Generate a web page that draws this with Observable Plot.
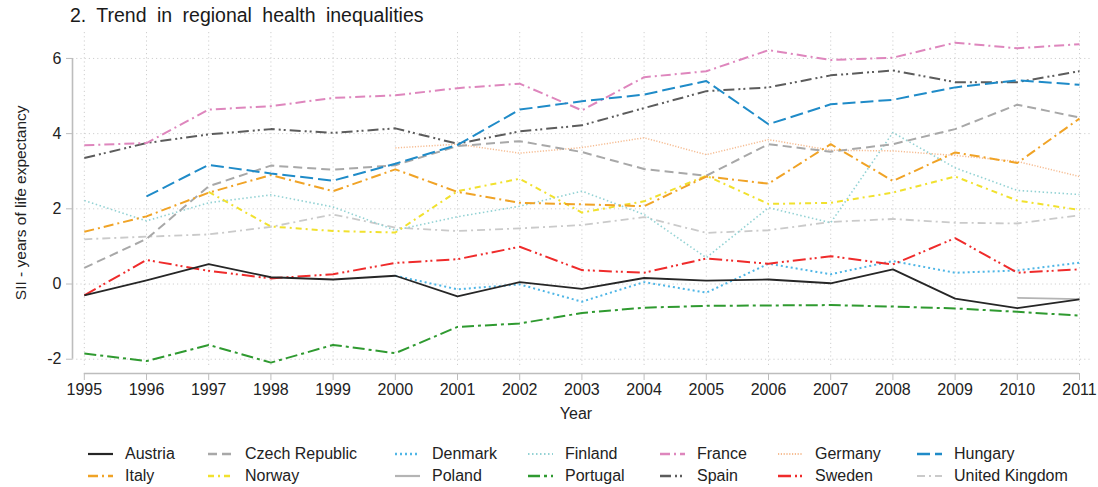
<!DOCTYPE html>
<html>
<head>
<meta charset="utf-8">
<script src="https://cdn.jsdelivr.net/npm/d3@7"></script>
<script src="https://cdn.jsdelivr.net/npm/@observablehq/plot@0.6"></script>
<style>
  body { margin: 0; background: #fff; font-family: "Liberation Sans", Arial, sans-serif; }
  #wrap { position: relative; width: 1098px; height: 487px; overflow: hidden; background: #fff; }
  #title { height: 28px; box-sizing: border-box; padding-top: 4px; padding-left: 70px; font-size: 19.5px; word-spacing: 5px; line-height: 22px; color: #1a1a1a; }
  #legend { position: relative; height: 62px; }
  .item { position: absolute; height: 22px; display: flex; align-items: center; font-size: 16px; color: #222; white-space: nowrap; }
  .item svg { margin-right: 12px; }
</style>
</head>
<body>
<div id="wrap">
  <div id="title">2. Trend in regional health inequalities</div>
  <div id="chart"></div>
  <div id="legend"></div>
</div>
<script>
// ---- data ----
const years = [1995, 1996, 1997, 1998, 1999, 2000, 2001, 2002, 2003, 2004, 2005, 2006, 2007, 2008, 2009, 2010, 2011];
const yTicks = [-2, 0, 2, 4, 6];
const yLabel = "SII - years of life expectancy";
const xLabel = "Year";

const austria  = [-0.30, 0.10, 0.53, 0.18, 0.12, 0.22, -0.33, 0.05, -0.13, 0.16, 0.09, 0.12, 0.02, 0.39, -0.39, -0.64, -0.41];
const czech    = [0.43, 1.20, 2.60, 3.15, 3.04, 3.16, 3.67, 3.80, 3.51, 3.06, 2.88, 3.72, 3.52, 3.72, 4.12, 4.77, 4.43];
const denmark  = [null, null, null, null, null, 0.22, -0.14, -0.01, -0.47, 0.05, -0.23, 0.54, 0.26, 0.61, 0.30, 0.36, 0.57];
const finland  = [2.22, 1.68, 2.16, 2.37, 2.05, 1.43, 1.79, 2.07, 2.47, 1.85, 0.70, 2.03, 1.63, 4.03, 3.09, 2.49, 2.38];
const france   = [3.69, 3.75, 4.64, 4.73, 4.95, 5.02, 5.21, 5.33, 4.62, 5.50, 5.66, 6.22, 5.96, 6.02, 6.42, 6.27, 6.38];
const germany  = [null, null, null, null, null, 3.62, 3.72, 3.48, 3.63, 3.89, 3.44, 3.84, 3.56, 3.54, 3.42, 3.26, 2.86];
const hungary  = [null, 2.33, 3.17, 2.94, 2.75, 3.20, 3.70, 4.64, 4.86, 5.04, 5.40, 4.25, 4.78, 4.90, 5.23, 5.42, 5.30];
const italy    = [1.39, 1.80, 2.43, 2.90, 2.47, 3.05, 2.45, 2.16, 2.12, 2.07, 2.86, 2.67, 3.72, 2.74, 3.50, 3.22, 4.40];
const norway   = [null, null, 2.45, 1.53, 1.41, 1.37, 2.47, 2.80, 1.90, 2.20, 2.88, 2.13, 2.16, 2.43, 2.86, 2.22, 1.97];
const poland   = [null, null, null, null, null, null, null, null, null, null, null, null, null, null, null, -0.37, -0.40];
const portugal = [-1.85, -2.05, -1.62, -2.09, -1.62, -1.84, -1.14, -1.05, -0.77, -0.63, -0.58, -0.57, -0.56, -0.60, -0.65, -0.74, -0.84];
const spain    = [3.35, 3.75, 3.98, 4.12, 4.02, 4.14, 3.73, 4.06, 4.22, 4.68, 5.13, 5.23, 5.55, 5.68, 5.37, 5.37, 5.66];
const sweden   = [-0.30, 0.64, 0.35, 0.15, 0.26, 0.56, 0.66, 0.99, 0.37, 0.30, 0.68, 0.54, 0.74, 0.52, 1.22, 0.30, 0.39];
const uk       = [1.19, 1.26, 1.32, 1.52, 1.85, 1.50, 1.41, 1.48, 1.57, 1.78, 1.36, 1.43, 1.65, 1.73, 1.63, 1.61, 1.83];

const countries = ["Austria", "Czech Republic", "Denmark", "Finland", "France", "Germany", "Hungary",
                   "Italy", "Norway", "Poland", "Portugal", "Spain", "Sweden", "United Kingdom"];
const seriesValues = [austria, czech, denmark, finland, france, germany, hungary,
                      italy, norway, poland, portugal, spain, sweden, uk];

// ---- styles (separate from data) ----
const styles = {
  "Austria":        {color: "#262626", dash: null,              width: 1.8},
  "Czech Republic": {color: "#a8a8a8", dash: "9,5",             width: 2},
  "Denmark":        {color: "#4fb6e6", dash: "2,3",             width: 2},
  "Finland":        {color: "#93d2d4", dash: "1.5,2.5",         width: 1.6},
  "France":         {color: "#de86bd", dash: "10,4,2,4",        width: 2},
  "Germany":        {color: "#f6bd93", dash: "1.2,1.6",         width: 1.5},
  "Hungary":        {color: "#1f8bc8", dash: "13,5",            width: 2},
  "Italy":          {color: "#f0a326", dash: "10,4,2,4",        width: 2},
  "Norway":         {color: "#f1e12e", dash: "6,4,2,4",         width: 2},
  "Poland":         {color: "#b4b4b4", dash: null,              width: 1.8},
  "Portugal":       {color: "#2f9a30", dash: "12,4,3,4",        width: 2},
  "Spain":          {color: "#5c5c5c", dash: "11,4,2,3,2,4",    width: 2},
  "Sweden":         {color: "#ef2b2b", dash: "13,4,2,3,2,4",    width: 2},
  "United Kingdom": {color: "#cacaca", dash: "8,4,2,4",         width: 1.8}
};

// long table
const rows = [];
countries.forEach((c, i) => {
  seriesValues[i].forEach((v, j) => {
    if (v !== null) rows.push({country: c, year: years[j], value: v});
  });
});

const xDomain = [years[0] - 0.19, years[years.length - 1]];
const yDomain = [-2.38, 6.69];
const drawOrder = ["United Kingdom", "Germany", "Finland", "Poland", "Norway", "Czech Republic", "Italy",
                   "Denmark", "Sweden", "Portugal", "Spain", "France", "Hungary", "Austria"];

const lineMarks = drawOrder.map(c => Plot.line(rows.filter(r => r.country === c), {
  x: "year", y: "value",
  stroke: styles[c].color,
  strokeWidth: styles[c].width,
  strokeDasharray: styles[c].dash || undefined,
  strokeLinejoin: "round",
  strokeLinecap: "butt"
}));

const chart = Plot.plot({
  width: 1098,
  height: 397,
  marginLeft: 72,
  marginRight: 19,
  marginTop: 4,
  marginBottom: 52,
  style: {fontFamily: "'Liberation Sans', Arial, sans-serif", fontSize: "16px", background: "#fff", color: "#222", overflow: "visible"},
  x: {domain: xDomain, label: null},
  y: {domain: yDomain, label: null},
  marks: [
    Plot.ruleY(yTicks, {stroke: "#cfcfcf", strokeDasharray: "1.2,3", insetRight: -11}),
    Plot.ruleX(years, {stroke: "#cfcfcf", strokeDasharray: "1.2,3", insetBottom: 6}),
    Plot.ruleY([yDomain[0]], {x1: years[0], x2: years[years.length - 1], stroke: "#bdbdbd", strokeWidth: 1.6}),
    Plot.ruleX([xDomain[0]], {y1: yTicks[0], y2: yTicks[yTicks.length - 1], stroke: "#bdbdbd", strokeWidth: 1.6}),
    Plot.axisX({ticks: years, tickFormat: d => String(d), tickSize: 7, tickPadding: 3, stroke: "#bdbdbd", fill: "#222", label: null}),
    Plot.axisY({ticks: yTicks, tickFormat: d => String(d), tickSize: 6, tickPadding: 5, stroke: "#bdbdbd", fill: "#222", label: null}),
    Plot.text([xLabel], {frameAnchor: "bottom", dy: 45, fill: "#222", fontSize: 16}),
    Plot.text([yLabel], {frameAnchor: "left", y: () => d3.mean(yTicks), textAnchor: "middle", rotate: -90, dx: -51, dy: -6, fill: "#222", fontSize: 15.5}),
    ...lineMarks
  ]
});
document.getElementById("chart").appendChild(chart);

// ---- legend ----
const legendCols = [88, 208, 395, 528, 660, 778, 917];
const legendRows = [29, 51];
const legend = document.getElementById("legend");
countries.forEach((c, i) => {
  const col = i % 7, row = Math.floor(i / 7);
  const item = document.createElement("div");
  item.className = "item";
  item.style.left = legendCols[col] + "px";
  item.style.top = (legendRows[row] - 11) + "px";
  const s = styles[c];
  const svg = d3.create("svg").attr("width", 25).attr("height", 8);
  svg.append("line").attr("x1", 0).attr("x2", 25).attr("y1", 4).attr("y2", 4)
    .attr("stroke", s.color).attr("stroke-width", s.width + 0.4)
    .attr("stroke-dasharray", s.dash || null);
  item.appendChild(svg.node());
  const t = document.createElement("span");
  t.textContent = c;
  item.appendChild(t);
  legend.appendChild(item);
});
</script>
</body>
</html>
